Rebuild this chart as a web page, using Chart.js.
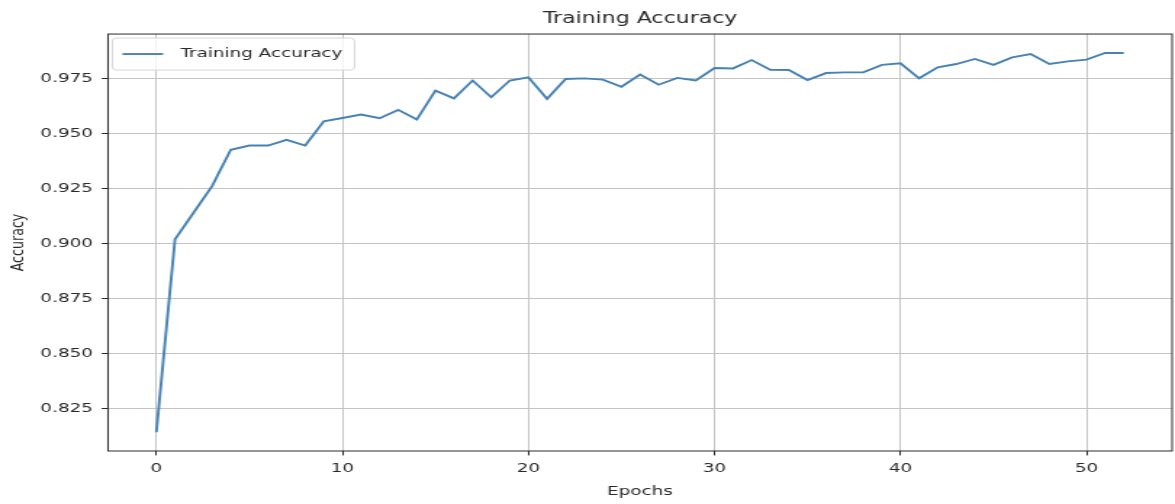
<!DOCTYPE html>
<html>
<head>
<meta charset="utf-8">
<title>Training Accuracy</title>
<script src="https://cdn.jsdelivr.net/npm/chart.js@4/dist/chart.umd.min.js"></script>
<style>
  html, body { margin: 0; padding: 0; background: #ffffff; overflow: hidden; }
  #wrap {
    position: absolute; left: 0; top: 0;
    width: 810px; height: 504px;
    transform: scaleX(1.4506); transform-origin: 0 0;
  }
  canvas { display: block; }
</style>
</head>
<body>
<div id="wrap"><canvas id="chart" width="810" height="504"></canvas></div>
<script>
// Epoch index for each recorded value
const epochs = [
  0, 1, 2, 3, 4, 5, 6, 7, 8, 9,
  10, 11, 12, 13, 14, 15, 16, 17, 18, 19,
  20, 21, 22, 23, 24, 25, 26, 27, 28, 29,
  30, 31, 32, 33, 34, 35, 36, 37, 38, 39,
  40, 41, 42, 43, 44, 45, 46, 47, 48, 49,
  50, 51, 52
];

// Training accuracy per epoch
const trainingAccuracy = [
  0.8144, 0.9020, 0.9140, 0.9262, 0.9426, 0.9445, 0.9445, 0.9471, 0.9445, 0.9555,
  0.9570, 0.9586, 0.9569, 0.9607, 0.9563, 0.9694, 0.9659, 0.9740, 0.9664, 0.9740,
  0.9755, 0.9657, 0.9747, 0.9750, 0.9744, 0.9712, 0.9767, 0.9721, 0.9752, 0.9740,
  0.9797, 0.9795, 0.9833, 0.9789, 0.9788, 0.9742, 0.9774, 0.9777, 0.9777, 0.9811,
  0.9818, 0.9750, 0.9800, 0.9815, 0.9838, 0.9811, 0.9845, 0.9860, 0.9815, 0.9827,
  0.9835, 0.9865, 0.9865
];

// Tick positions on both axes
const xTicks = [0, 10, 20, 30, 40, 50];
const yTicks = [0.825, 0.850, 0.875, 0.900, 0.925, 0.950, 0.975];

const FONT = "'DejaVu Sans', sans-serif";
const TEXT = '#2a2a2a';
const SPINE = '#2b2b2b';
const GRID = '#c4c4c4';
const LINE = '#4682b4';

// Axes frame on all four sides, drawn above the data line
const framePlugin = {
  id: 'frame',
  afterDatasetsDraw(chart) {
    const { ctx, chartArea: a } = chart;
    ctx.save();
    ctx.strokeStyle = SPINE;
    ctx.lineWidth = 1;
    ctx.strokeRect(a.left, a.top, a.right - a.left, a.bottom - a.top);
    ctx.restore();
  }
};

// Boxed legend in the upper-left corner of the plot
const boxLegendPlugin = {
  id: 'boxLegend',
  afterDraw(chart) {
    const { ctx, chartArea: a } = chart;
    const ds = chart.data.datasets[0];
    const x0 = a.left + 3, y0 = a.top + 4, w = 167, h = 32, r = 3;
    ctx.save();
    ctx.beginPath();
    ctx.moveTo(x0 + r, y0);
    ctx.lineTo(x0 + w - r, y0);
    ctx.arcTo(x0 + w, y0, x0 + w, y0 + r, r);
    ctx.lineTo(x0 + w, y0 + h - r);
    ctx.arcTo(x0 + w, y0 + h, x0 + w - r, y0 + h, r);
    ctx.lineTo(x0 + r, y0 + h);
    ctx.arcTo(x0, y0 + h, x0, y0 + h - r, r);
    ctx.lineTo(x0, y0 + r);
    ctx.arcTo(x0, y0, x0 + r, y0, r);
    ctx.closePath();
    ctx.fillStyle = 'rgba(255,255,255,0.8)';
    ctx.fill();
    ctx.strokeStyle = '#d6d6d6';
    ctx.lineWidth = 1;
    ctx.stroke();

    const cy = y0 + h / 2;
    ctx.beginPath();
    ctx.moveTo(x0 + 7, cy);
    ctx.lineTo(x0 + 35, cy);
    ctx.strokeStyle = ds.borderColor;
    ctx.lineWidth = ds.borderWidth;
    ctx.stroke();

    ctx.fillStyle = TEXT;
    ctx.font = '12.65px ' + FONT;
    ctx.textAlign = 'left';
    ctx.textBaseline = 'middle';
    ctx.fillText(ds.label, x0 + 47, cy);
    ctx.restore();
  }
};

new Chart(document.getElementById('chart'), {
  type: 'line',
  data: {
    datasets: [{
      label: 'Training Accuracy',
      data: epochs.map((e, i) => ({ x: e, y: trainingAccuracy[i] })),
      borderColor: LINE,
      backgroundColor: LINE,
      borderWidth: 1.9,
      pointRadius: 0,
      tension: 0,
      fill: false
    }]
  },
  options: {
    responsive: false,
    animation: false,
    devicePixelRatio: 1,
    layout: { padding: { left: 0, right: 2, top: 0, bottom: 0 } },
    plugins: {
      legend: { display: false },
      tooltip: { enabled: false },
      title: {
        display: true,
        text: 'Training Accuracy',
        fullSize: false,
        color: TEXT,
        font: { family: FONT, size: 15.2, weight: 'normal', lineHeight: 1.2 },
        padding: { top: 10, bottom: 5.8 }
      }
    },
    scales: {
      x: {
        type: 'linear',
        min: -2.6,
        max: 54.6,
        afterBuildTicks(scale) { scale.ticks = xTicks.map(v => ({ value: v })); },
        afterFit(scale) { scale.height = 53; },
        ticks: {
          color: TEXT,
          padding: 5.5,
          font: { family: FONT, size: 12.65 },
          callback: v => String(v)
        },
        grid: {
          color: GRID,
          lineWidth: 1,
          drawTicks: true,
          tickLength: 4.4,
          tickColor: SPINE,
          tickWidth: 1
        },
        border: { display: false },
        title: {
          display: true,
          text: 'Epochs',
          color: TEXT,
          font: { family: FONT, size: 12.65, lineHeight: 1.2 },
          padding: { top: 0, bottom: 5 }
        }
      },
      y: {
        type: 'linear',
        min: 0.8059,
        max: 0.9951,
        afterBuildTicks(scale) { scale.ticks = yTicks.map(v => ({ value: v })); },
        afterFit(scale) { scale.width = 74.45; },
        ticks: {
          color: TEXT,
          padding: 6,
          font: { family: FONT, size: 12.65 },
          callback: v => Number(v).toFixed(3)
        },
        grid: {
          color: GRID,
          lineWidth: 1,
          drawTicks: true,
          tickLength: 4.4,
          tickColor: SPINE,
          tickWidth: 1
        },
        border: { display: false },
        title: {
          display: true,
          text: 'Accuracy',
          color: TEXT,
          font: { family: FONT, size: 12.65, lineHeight: 1.2 },
          padding: { top: 4.8, bottom: 0 }
        }
      }
    }
  },
  plugins: [framePlugin, boxLegendPlugin]
});
</script>
</body>
</html>
